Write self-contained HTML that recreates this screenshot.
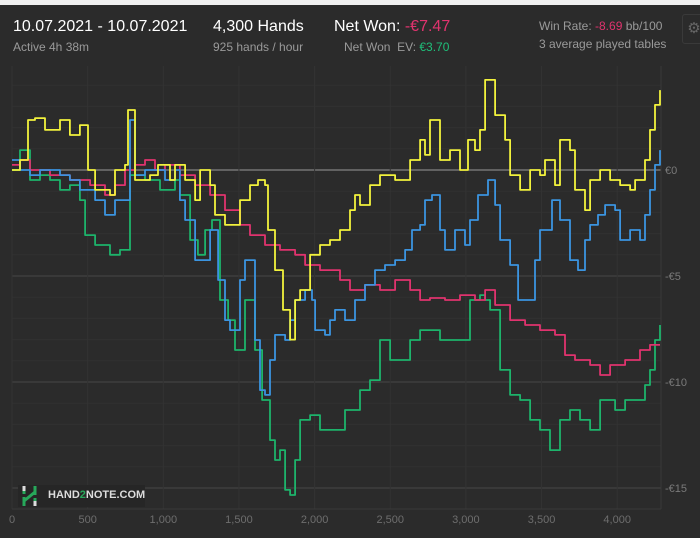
<!DOCTYPE html>
<html><head><meta charset="utf-8"><style>
body{margin:0;width:700px;height:538px;background:#f0f0f0;overflow:hidden;font-family:"Liberation Sans",sans-serif;}
#panel{position:absolute;left:0;top:5px;width:700px;height:533px;background:#2b2b2b;}
.t{position:absolute;white-space:nowrap;}
</style></head><body>
<div id="panel"></div>
<div class="t" style="left:13px;top:18px;color:#fff;font-size:16px;">10.07.2021 - 10.07.2021</div>
<div class="t" style="left:13px;top:40px;color:#9a9a9a;font-size:12px;">Active 4h 38m</div>
<div class="t" style="left:213px;top:18px;color:#fff;font-size:16px;">4,300 Hands</div>
<div class="t" style="left:213px;top:40px;color:#9a9a9a;font-size:12px;">925 hands / hour</div>
<div class="t" style="left:334px;top:18px;color:#fff;font-size:16px;">Net Won: <span style="color:#e0336e">-€7.47</span></div>
<div class="t" style="left:344px;top:40px;color:#9a9a9a;font-size:12px;">Net Won&nbsp; EV: <span style="color:#1fbf7a">€3.70</span></div>
<div class="t" style="left:539px;top:19px;color:#9a9a9a;font-size:12px;">Win Rate: <span style="color:#e0336e">-8.69</span> bb/100</div>
<div class="t" style="left:539px;top:37px;color:#9a9a9a;font-size:12px;">3 average played tables</div>
<div style="position:absolute;left:682px;top:14px;width:22px;height:28px;border:1px solid #3a3a3a;border-radius:3px;color:#666;font-size:15px;text-align:center;line-height:28px;">⚙</div>
<svg id="chart" width="700" height="538" style="position:absolute;left:0;top:0"></svg>
<div style="position:absolute;left:18px;top:485px;width:127px;height:22px;background:#262626;">
<svg width="20" height="22" style="position:absolute;left:3px;top:0"><path d="M3 1v8M3 12v9M14 1v9M14 13v8M3 16L14 7" stroke="#27a85a" stroke-width="3" fill="none"/><path d="M3 1v5M14 16v5" stroke="#ddd" stroke-width="3"/></svg>
<span style="position:absolute;left:30px;top:4px;color:#ddd;font-size:11px;font-weight:bold;">HAND<span style="color:#27a85a">2</span>NOTE.COM</span></div>
<script>
const xTicks=[0,500,1000,1500,2000,2500,3000,3500,4000];
const xTickLabels=["0","500","1,000","1,500","2,000","2,500","3,000","3,500","4,000"];
const yTicks=[0,-5,-10,-15];
const yTickLabels=["€0","-€5","-€10","-€15"];
const yellowHands=[0,53,106,152,218,317,383,449,502,549,648,681,747,767,813,912,965,1044,1077,1144,1210,1243,1309,1342,1408,1507,1573,1626,1672,1692,1738,1791,1838,1871,1904,1970,2036,2102,2168,2234,2267,2300,2366,2432,2532,2631,2697,2730,2763,2829,2895,2961,3014,3060,3093,3127,3193,3259,3292,3358,3424,3490,3523,3589,3622,3688,3721,3787,3821,3887,3953,4019,4085,4118,4184,4217,4250,4283];
const yellowValues=[0,0.47,2.36,2.45,1.89,2.36,1.65,2.12,0,-0.94,-1.18,0,0.24,2.83,-0.47,-0.24,0.24,-0.47,0.24,-0.47,-1.42,0,-0.71,-2.12,-2.59,-1.42,-0.71,-0.47,-0.71,-2.83,-4.72,-6.6,-8.0,-6.13,-5.66,-4.0,-3.54,-3.3,-2.83,-1.89,-1.18,-1.65,-0.71,-0.24,-0.47,0.47,1.42,0.71,2.36,0.47,0.94,0,1.42,0.94,1.89,4.25,2.59,1.42,-0.24,-0.94,0,-0.24,0.47,-0.71,1.42,0.94,-0.94,-1.89,-0.47,0,-0.47,-0.71,-0.94,-0.47,0.47,1.89,3.07,3.77];
const blueHands=[0,53,119,185,317,383,449,549,615,681,747,780,813,879,1011,1077,1110,1144,1210,1243,1309,1362,1408,1441,1507,1540,1606,1639,1672,1705,1738,1805,1838,1871,1937,1983,2003,2069,2102,2135,2201,2267,2333,2399,2465,2532,2598,2644,2697,2730,2776,2829,2862,2928,2994,3027,3080,3146,3193,3226,3292,3345,3424,3457,3490,3543,3569,3622,3688,3741,3787,3821,3873,3920,3986,4019,4085,4151,4184,4217,4250,4283];
const blueValues=[0.47,0,-0.24,0,-0.24,-0.47,-0.94,-1.42,-2.12,-1.42,-1.42,2.36,-0.24,0,-0.47,0,-1.42,-2.36,-4.25,-4.25,-2.83,-5.19,-7.08,-7.55,-5.19,-4.25,-8.02,-10.38,-10.61,-8.96,-7.78,-8.02,-7.08,-6.13,-5.66,-6.13,-7.55,-7.78,-7.08,-6.6,-7.08,-6.13,-5.42,-4.72,-4.48,-4.25,-3.77,-2.83,-2.59,-1.42,-1.18,-2.83,-3.77,-2.83,-3.54,-2.36,-1.18,-0.47,-1.65,-3.3,-4.48,-6.13,-6.13,-4.25,-2.83,-2.83,-1.42,-2.36,-4.25,-4.72,-3.3,-2.59,-2.12,-1.65,-1.89,-3.3,-2.83,-3.3,-2.12,-0.94,0.24,0.94];
const pinkHands=[0,53,119,251,383,516,615,681,747,813,879,945,1011,1110,1210,1309,1408,1507,1573,1672,1771,1871,1937,2036,2102,2168,2234,2333,2432,2532,2631,2697,2763,2862,2961,3060,3127,3193,3292,3391,3490,3589,3655,3721,3821,3887,3953,4052,4151,4217,4283];
const pinkValues=[0.24,0.47,0,-0.24,-0.47,-0.71,-1.18,-0.71,0,0.24,0.47,0,0.24,-0.24,-0.71,-1.18,-1.89,-2.59,-3.07,-3.54,-3.77,-4.0,-4.48,-4.72,-4.72,-5.19,-5.66,-5.42,-5.66,-5.19,-5.66,-6.13,-6.04,-6.13,-5.9,-6.13,-5.66,-6.37,-7.08,-7.31,-7.55,-7.78,-8.73,-8.96,-9.2,-9.67,-9.2,-8.96,-8.49,-8.25,-8.25];
const greenHands=[0,53,119,185,251,317,383,449,483,549,648,714,780,879,978,1077,1110,1177,1229,1276,1322,1375,1428,1474,1540,1606,1653,1705,1738,1771,1805,1838,1871,1904,1970,2036,2102,2201,2300,2366,2432,2499,2565,2631,2697,2763,2829,2895,2961,3027,3093,3127,3160,3226,3292,3358,3424,3490,3556,3622,3688,3754,3821,3887,3986,4052,4151,4184,4217,4250,4283];
const greenValues=[0,0.94,-0.47,-0.24,-0.47,-0.94,-0.71,-1.42,-3.07,-3.54,-4.0,-3.77,-0.24,-0.47,-0.94,-0.47,-1.18,-3.3,-4.0,-2.83,-2.36,-6.13,-7.08,-8.49,-6.13,-8.49,-10.85,-12.74,-13.68,-13.21,-15.09,-15.33,-13.68,-11.79,-11.56,-12.26,-12.26,-11.32,-10.38,-9.91,-8.02,-8.96,-8.96,-8.02,-7.55,-7.55,-8.02,-8.02,-8.02,-6.13,-5.9,-6.13,-6.6,-9.43,-10.61,-10.85,-11.79,-12.26,-13.21,-11.79,-11.32,-11.79,-12.26,-10.85,-11.32,-10.85,-10.85,-10.14,-9.43,-8.02,-7.31];

const svg=document.getElementById('chart');
const NS='http://www.w3.org/2000/svg';
const X=h=>12+h*0.1513;
const Y=v=>170-v*21.2;
function mk(tag,attrs){const e=document.createElementNS(NS,tag);for(const k in attrs)e.setAttribute(k,attrs[k]);svg.appendChild(e);return e;}
for(let v=4;v>=-16;v--){const y=Y(v);if(y<66||y>509)continue;
 const g=mk('line',{x1:12,x2:661,y1:y,y2:y,stroke:(v%5===0)?(v===0?'#9a9a9a':'#474747'):'#313131','stroke-width':1});
 
 }
xTicks.forEach((t,i)=>{
 const l=mk('line',{x1:X(t),x2:X(t),y1:66,y2:509,stroke:'#333','stroke-width':1});
 
 
 const tx=mk('text',{x:X(t),y:523,fill:'#6e6e6e','font-size':11,'text-anchor':'middle','font-family':'Liberation Sans, sans-serif'});
 tx.textContent=xTickLabels[i];
 
 
});
const ax=mk('line',{x1:12,x2:661,y1:509,y2:509,stroke:'#3a3a3a','stroke-width':1});


const rl=mk('line',{x1:661,x2:661,y1:66,y2:509,stroke:'#3a3a3a','stroke-width':1});


yTicks.forEach((t,i)=>{
 const tx=mk('text',{x:665,y:Y(t)+4,fill:'#7a7a7a','font-size':11,'font-family':'Liberation Sans, sans-serif'});
 tx.textContent=yTickLabels[i];
 
 
});
function series(h,v,color,name){
 let d='M'+X(h[0]).toFixed(1)+','+Y(v[0]).toFixed(1);
 for(let i=1;i<h.length;i++){d+=' H'+X(h[i]).toFixed(1)+' V'+Y(v[i]).toFixed(1);}
 const p=mk('path',{d:d,fill:'none',stroke:color,'stroke-width':1.8,'stroke-linejoin':'round'});
 
 
}
series(greenHands,greenValues,'#1db36b','line-net-won');
series(pinkHands,pinkValues,'#e0336e','line-showdown');
series(blueHands,blueValues,'#3b94e0','line-non-showdown');
series(yellowHands,yellowValues,'#f2f23c','line-ev');
</script>
</body></html>
